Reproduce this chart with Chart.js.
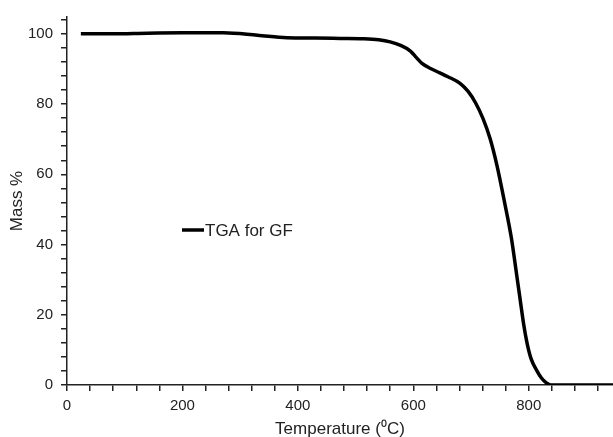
<!DOCTYPE html>
<html>
<head>
<meta charset="utf-8">
<script src="https://cdn.jsdelivr.net/npm/chart.js@4/dist/chart.umd.min.js"></script>
<style>
  html, body { margin: 0; padding: 0; background: #fff; }
  #wrap { width: 613px; height: 437px; }
</style>
</head>
<body>
<div id="wrap"><canvas id="myChart"></canvas></div>
<script>
// temperature (oC) and mass %
var temperature = [24, 80, 139, 200, 271, 330, 381, 430, 473, 513, 540, 560, 578, 595, 605, 615, 629, 646, 660, 681, 695, 708, 721, 733, 745, 759, 770, 779, 785, 791, 797, 804, 814, 822, 830, 838, 860, 900, 946];
var massPct = [100, 100, 100.2, 100.3, 100.3, 99.6, 98.9, 98.8, 98.7, 98.6, 98.3, 97.7, 96.7, 95.1, 93.3, 91.6, 90.2, 88.9, 87.8, 85.9, 83.6, 80.3, 75.8, 70.2, 62.5, 51.3, 41.8, 31.5, 24.5, 17.5, 12.0, 7.5, 4.1, 2.0, 0.7, 0, 0, 0, 0];
var seriesName = 'TGA for GF';
var xLabels = [0, 200, 400, 600, 800];
var yLabels = [0, 20, 40, 60, 80, 100];

var points = temperature.map(function (t, i) {
    return { x: t, y: massPct[i] };
});

var font = "'Liberation Sans', Arial, sans-serif";

// legend drawn inside the plot, like the original
const insideLegend = {
    id: 'insideLegend',
    afterDraw: function (chart) {
        var ctx = chart.ctx;
        var a = chart.chartArea;
        var x = a.left + 115;
        var y = a.top + 213;
        ctx.save();
        ctx.strokeStyle = '#000';
        ctx.lineWidth = 3.5;
        ctx.beginPath();
        ctx.moveTo(x, y);
        ctx.lineTo(x + 22, y);
        ctx.stroke();
        ctx.fillStyle = '#222';
        ctx.font = '17px ' + font;
        ctx.textBaseline = 'middle';
        ctx.fillText(seriesName, x + 23, y + 1);
        ctx.restore();
    }
};

const config = {
    type: 'line',
    data: {
        datasets: [{
            label: seriesName,
            data: points,
            borderColor: '#000',
            backgroundColor: '#000',
            borderWidth: 3.5,
            pointRadius: 0,
            cubicInterpolationMode: 'monotone',
            fill: false
        }]
    },
    options: {
        responsive: true,
        maintainAspectRatio: false,
        animation: false,
        layout: { padding: { top: 14, right: 0, left: 0, bottom: 0 } },
        plugins: {
            legend: { display: false },
            tooltip: { enabled: false }
        },
        scales: {
            x: {
                type: 'linear',
                min: 0,
                max: 946,
                border: { color: '#222', width: 1.5 },
                grid: { drawOnChartArea: false, drawTicks: true, tickLength: 6, color: '#222', lineWidth: 1.5 },
                ticks: {
                    stepSize: 40,
                    includeBounds: false,
                    autoSkip: false,
                    maxRotation: 0,
                    padding: 6,
                    color: '#222',
                    font: { family: font, size: 15 },
                    callback: function (v) { return xLabels.indexOf(v) >= 0 ? String(v) : ''; }
                },
                title: {
                    display: true,
                    text: 'Temperature (\u2070C)',
                    color: '#222',
                    font: { family: font, size: 17 },
                    padding: { top: 0, bottom: -3 }
                },
                afterFit: function (s) { s.height = 52; }
            },
            y: {
                min: 0,
                max: 104.8,
                border: { color: '#222', width: 1.5 },
                grid: { drawOnChartArea: false, drawTicks: true, tickLength: 6, color: '#222', lineWidth: 1.5 },
                ticks: {
                    stepSize: 4,
                    includeBounds: false,
                    autoSkip: false,
                    padding: 8,
                    color: '#222',
                    font: { family: font, size: 15 },
                    callback: function (v) { return yLabels.indexOf(v) >= 0 ? String(v) : ''; }
                },
                title: {
                    display: true,
                    text: 'Mass %',
                    color: '#222',
                    font: { family: font, size: 17 },
                    padding: { top: 7, bottom: 0 }
                },
                afterFit: function (s) { s.width = 67; }
            }
        }
    },
    plugins: [insideLegend]
};

(function () {
    new Chart(document.getElementById('myChart'), config);
})();
</script>
</body>
</html>
